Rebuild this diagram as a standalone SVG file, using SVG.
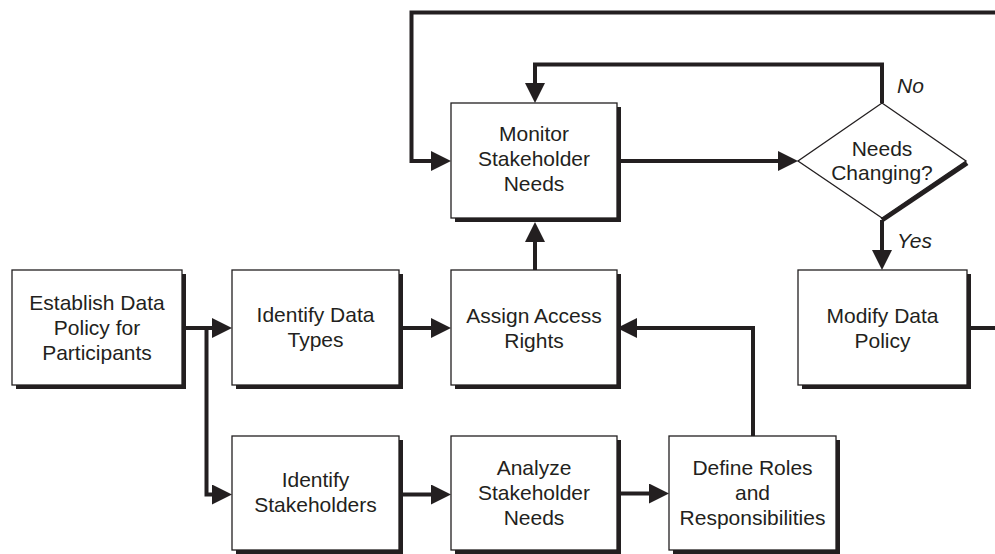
<svg xmlns="http://www.w3.org/2000/svg" width="995" height="554" viewBox="0 0 995 554">
<defs>
<marker id="ah" viewBox="0 0 20 20" refX="10" refY="10" markerWidth="20" markerHeight="20" markerUnits="userSpaceOnUse" orient="auto">
<path d="M0,0 L20,10 L0,20 Z" fill="#231f20"/>
</marker>
<style>
.box{fill:#fff;stroke:#231f20;stroke-width:1.3}
.sh{fill:#231f20}
.t{font-family:"Liberation Sans",Arial,sans-serif;font-size:21px;fill:#231f20;text-anchor:middle}
.it{font-style:italic;text-anchor:start}
.c{fill:none;stroke:#231f20;stroke-width:4;stroke-linejoin:miter}
.a{marker-end:url(#ah)}
</style>
</defs>
<rect width="995" height="554" fill="#fff"/>
<g id="connectors">
<path class="c" d="M995,12.5 H411.5 V161 H441" />
<path class="c a" d="M411.5,161 H441"/>
<path class="c a" d="M882,103 V64.5 H535 V93"/>
<path class="c a" d="M621,161 H788"/>
<path class="c a" d="M882,220 V260"/>
<path class="c" d="M971,328 H995"/>
<path class="c a" d="M535,270 V232"/>
<path class="c a" d="M186,328 H222"/>
<path class="c a" d="M206.5,328 V494.5 H222"/>
<path class="c a" d="M403,328 H441"/>
<path class="c a" d="M403,494.5 H441"/>
<path class="c a" d="M621,493.5 H659"/>
<path class="c a" d="M753,436 V328 H627"/>
</g>
<g id="n-establish">
<rect class="sh" x="16" y="274" width="170" height="115"/>
<rect class="box" x="12" y="270" width="170" height="115"/>
<text class="t"><tspan x="97" y="310">Establish Data</tspan><tspan x="97" y="335">Policy for</tspan><tspan x="97" y="360">Participants</tspan></text>
</g>
<g id="n-identify-data">
<rect class="sh" x="236" y="274" width="167" height="115"/>
<rect class="box" x="232" y="270" width="167" height="115"/>
<text class="t"><tspan x="315.5" y="322">Identify Data</tspan><tspan x="315.5" y="347">Types</tspan></text>
</g>
<g id="n-assign">
<rect class="sh" x="455" y="274" width="166" height="115"/>
<rect class="box" x="451" y="270" width="166" height="115"/>
<text class="t"><tspan x="534" y="323">Assign Access</tspan><tspan x="534" y="348">Rights</tspan></text>
</g>
<g id="n-monitor">
<rect class="sh" x="455" y="107" width="166" height="115"/>
<rect class="box" x="451" y="103" width="166" height="115"/>
<text class="t"><tspan x="534" y="141">Monitor</tspan><tspan x="534" y="166">Stakeholder</tspan><tspan x="534" y="191">Needs</tspan></text>
</g>
<g id="n-identify-stakeholders">
<rect class="sh" x="236" y="440" width="167" height="114"/>
<rect class="box" x="232" y="436" width="167" height="114"/>
<text class="t"><tspan x="315.5" y="487">Identify</tspan><tspan x="315.5" y="512">Stakeholders</tspan></text>
</g>
<g id="n-analyze">
<rect class="sh" x="455" y="440" width="166" height="114"/>
<rect class="box" x="451" y="436" width="166" height="114"/>
<text class="t"><tspan x="534" y="475">Analyze</tspan><tspan x="534" y="500">Stakeholder</tspan><tspan x="534" y="525">Needs</tspan></text>
</g>
<g id="n-define">
<rect class="sh" x="673" y="440" width="167" height="114"/>
<rect class="box" x="669" y="436" width="167" height="114"/>
<text class="t"><tspan x="752.5" y="475">Define Roles</tspan><tspan x="752.5" y="500">and</tspan><tspan x="752.5" y="525">Responsibilities</tspan></text>
</g>
<g id="n-modify">
<rect class="sh" x="802" y="274" width="169" height="115"/>
<rect class="box" x="798" y="270" width="169" height="115"/>
<text class="t"><tspan x="882.5" y="323">Modify Data</tspan><tspan x="882.5" y="348">Policy</tspan></text>
</g>
<g id="n-decision">
<path d="M967,163 L882,220" stroke="#231f20" stroke-width="5" fill="none"/>
<polygon class="box" points="882,103 966,161 882,218 798,161"/>
<text class="t"><tspan x="882" y="156">Needs</tspan><tspan x="882" y="180">Changing?</tspan></text>
</g>
<g id="labels">
<text class="t it" x="897" y="93">No</text>
<text class="t it" x="897" y="248">Yes</text>
</g>
</svg>
